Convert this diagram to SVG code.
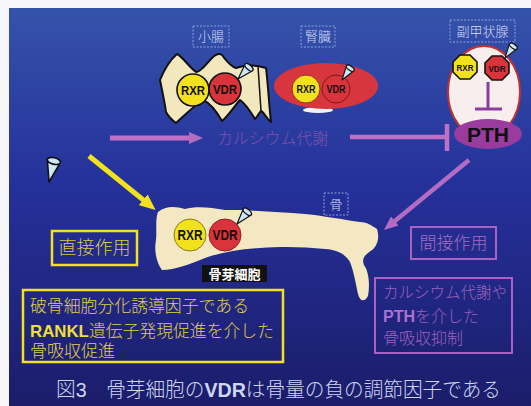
<svg xmlns="http://www.w3.org/2000/svg" width="531" height="406" viewBox="0 0 531 406">
  <style>
    .jp { font-family: "Liberation Serif", "Noto Sans CJK JP", serif; font-weight: 300; }
    .tag { fill: none; stroke: #8aa2dc; stroke-width: 1; stroke-dasharray: 2 1.5; }
    .tagtext { font-family: "Liberation Serif", "Noto Sans CJK JP", serif; font-weight: 300; font-size: 13px; fill: #d4dcf4; text-anchor: middle; }
    .rxr { fill: #f2e21e; stroke: #111; stroke-width: 1.6; }
    .vdr { fill: #d9333c; stroke: #111; stroke-width: 1.6; }
    .rtext { font-family: "Liberation Sans", "DejaVu Sans", sans-serif; font-weight: bold; fill: #111; text-anchor: middle; }
    .cone { fill: #cfe6f4; stroke: #111; stroke-width: 1.2; stroke-linejoin: round; }
  </style>
  <defs>
    <linearGradient id="bg" x1="0" y1="0" x2="0" y2="1">
      <stop offset="0" stop-color="#3553ab"/>
      <stop offset="0.45" stop-color="#25309a"/>
      <stop offset="1" stop-color="#1b1d6a"/>
    </linearGradient>
    <g id="cone">
      <path class="cone" d="M0,0 L-5,-16 A5,2.4 0 0 1 5,-16 Z"/>
      <ellipse class="cone" cx="0" cy="-16" rx="5" ry="2.4" fill="#eef7fc"/>
    </g>
    <marker id="headPurple" markerUnits="userSpaceOnUse" markerWidth="14" markerHeight="12" viewBox="0 0 14 12" refX="1" refY="6" orient="auto">
      <path d="M0,0 L14,6 L0,12 z" fill="#b36cc4"/>
    </marker>
    <marker id="headYellow" markerUnits="userSpaceOnUse" markerWidth="16" markerHeight="14" viewBox="0 0 16 14" refX="1" refY="7" orient="auto">
      <path d="M0,0 L16,7 L0,14 z" fill="#f2e21e"/>
    </marker>
  </defs>

  <!-- page and backdrop -->
  <rect x="0" y="0" width="531" height="406" fill="#f6f6f8"/>
  <rect x="9" y="8" width="522" height="398" fill="url(#bg)"/>

  <!-- organ tags -->
  <g id="tag-intestine">
    <rect class="tag" x="193" y="26" width="36" height="21"/>
    <text class="tagtext" x="211" y="41">小腸</text>
  </g>
  <g id="tag-kidney">
    <rect class="tag" x="301" y="26" width="34" height="21"/>
    <text class="tagtext" x="318" y="41">腎臓</text>
  </g>
  <g id="tag-parathyroid">
    <rect class="tag" x="450" y="20" width="65" height="22"/>
    <text class="tagtext" x="482.5" y="36">副甲状腺</text>
  </g>
  <g id="tag-bone">
    <rect class="tag" x="324" y="193" width="24" height="22"/>
    <text class="tagtext" x="336" y="209">骨</text>
  </g>

  <!-- small intestine: folded wall -->
  <g id="intestine">
    <path d="M160,80 C164,70 170,60 177,54 C182,56 188,66 196,72 C201,72 206,64 212,58 C216,54 219,53 222,55 C226,60 230,66 236,68 C242,66 250,65 258,66 L266,68 C268,84 269,104 271,122 C266,118 264,112 261,111 C258,114 257,118 255,119 C252,114 246,104 240,100 C236,104 228,116 222,121 C218,114 212,104 203,100 C196,104 186,114 176,123 C172,120 168,116 166,112 C165,104 162,90 160,80 Z" fill="#f3e8bd" stroke="#111" stroke-width="2" stroke-linejoin="round"/>
    <path d="M258,66 L261,111" fill="none" stroke="#111" stroke-width="1.5"/>
    <circle class="rxr" cx="193" cy="90" r="16"/>
    <circle class="vdr" cx="225" cy="89" r="16"/>
    <text class="rtext" x="193" y="95" font-size="13" textLength="24" lengthAdjust="spacingAndGlyphs">RXR</text>
    <text class="rtext" x="225" y="94" font-size="13" textLength="24" lengthAdjust="spacingAndGlyphs">VDR</text>
    <use href="#cone" transform="translate(238,79) rotate(43)"/>
  </g>

  <!-- kidney -->
  <g id="kidney">
    <ellipse cx="318" cy="110" rx="15" ry="3" fill="#f4f0f4"/>
    <ellipse cx="326" cy="86" rx="52" ry="23" fill="#d8363e"/>
    <circle cx="306" cy="89" r="14" fill="#f2e21e" stroke="#9a2a30" stroke-width="1"/>
    <circle cx="336" cy="89" r="14" fill="#d9333c" stroke="#7a1a20" stroke-width="1"/>
    <text class="rtext" x="306" y="93" font-size="11" font-weight="normal" textLength="19" lengthAdjust="spacingAndGlyphs">RXR</text>
    <text class="rtext" x="336" y="93" font-size="11" font-weight="normal" textLength="19" lengthAdjust="spacingAndGlyphs">VDR</text>
    <use href="#cone" transform="translate(342,80) rotate(35) scale(0.9)"/>
  </g>

  <!-- parathyroid gland -->
  <g id="parathyroid">
    <ellipse cx="484" cy="92" rx="36" ry="46" fill="#f8eeee" stroke="#c2302e" stroke-width="2"/>
    <polygon class="rxr" points="477,62 470,55 460,55 453,62 453,72 460,79 470,79 477,72"/>
    <polygon class="vdr" points="509,63 502,56 492,56 485,63 485,73 492,80 502,80 509,73"/>
    <text class="rtext" x="465" y="71" font-size="9" textLength="17" lengthAdjust="spacingAndGlyphs">RXR</text>
    <text class="rtext" x="497" y="72" font-size="9" textLength="17" lengthAdjust="spacingAndGlyphs">VDR</text>
    <use href="#cone" transform="translate(505,58) rotate(35) scale(0.9)"/>
  </g>

  <!-- PTH -->
  <g id="pth">
    <ellipse cx="488" cy="134" rx="34" ry="15" fill="#9a3b9e"/>
    <text x="488" y="142" font-family="Liberation Sans, DejaVu Sans, sans-serif" font-weight="bold" font-size="21" fill="#111" text-anchor="middle">PTH</text>
  </g>

  <!-- bone with osteoblast -->
  <g id="bone">
    <path d="M158,212 C165,206 175,206 185,209 C195,206 210,207 225,210 L245,210 C265,212 285,212 305,214 C325,216 345,220 360,222 C368,222 372,226 377,229 C380,238 377,246 372,250 C366,254 361,258 364,265 C369,272 370,285 368,296 C365,302 360,302 358,294 C356,285 354,272 350,262 C345,254 338,250 325,249 C305,247 285,246 260,248 C240,249 222,252 205,258 C190,264 175,270 162,270 C156,262 154,250 156,240 C157,230 155,220 158,212 Z" fill="#f3e8c2"/>
    <circle cx="190" cy="235" r="16" fill="#f2e21e" stroke="#8a7a20" stroke-width="1"/>
    <circle cx="225" cy="235" r="16" fill="#d9333c" stroke="#8a2228" stroke-width="1"/>
    <text class="rtext" x="190" y="240" font-size="14" font-weight="normal" textLength="25" lengthAdjust="spacingAndGlyphs">RXR</text>
    <text class="rtext" x="225" y="240" font-size="14" font-weight="normal" textLength="25" lengthAdjust="spacingAndGlyphs">VDR</text>
    <use href="#cone" transform="translate(237,224) rotate(40)"/>
  </g>

  <g id="osteoblast-label">
    <rect x="202" y="265" width="65" height="17" fill="#111"/>
    <text x="234.5" y="278.5" font-family="Noto Sans CJK JP, sans-serif" font-weight="bold" font-size="13" fill="#ffffff" text-anchor="middle">骨芽細胞</text>
  </g>

  <!-- loose vitamin D pipette -->
  <g id="ligand">
    <use href="#cone" transform="translate(49,182) rotate(13) scale(1.35)"/>
  </g>

  <!-- connectors -->
  <g id="connectors">
    <line x1="110" y1="138" x2="190" y2="138" stroke="#c06fc6" stroke-width="5" marker-end="url(#headPurple)"/>
    <line x1="350" y1="137" x2="447" y2="137" stroke="#c06fc6" stroke-width="4.5"/>
    <line x1="447" y1="124" x2="447" y2="151" stroke="#c06fc6" stroke-width="4.5"/>
    <line x1="488" y1="82" x2="488" y2="109" stroke="#8a3c9e" stroke-width="3"/>
    <line x1="475" y1="109" x2="502" y2="109" stroke="#8a3c9e" stroke-width="3"/>
    <line x1="89" y1="156" x2="144" y2="200.5" stroke="#f2e21e" stroke-width="5" marker-end="url(#headYellow)"/>
    <line x1="469" y1="160" x2="394" y2="221.7" stroke="#b36cc4" stroke-width="4.5" marker-end="url(#headPurple)"/>
  </g>

  <g id="calcium-label">
    <text class="jp" x="217" y="144" font-size="16" fill="#7d52ac" textLength="111" lengthAdjust="spacingAndGlyphs">カルシウム代謝</text>
  </g>

  <!-- action labels -->
  <g id="direct">
    <rect x="52" y="231" width="85" height="34" fill="none" stroke="#f2e21e" stroke-width="2.5"/>
    <text class="jp" x="94.5" y="254" font-size="18" fill="#d9c944" text-anchor="middle">直接作用</text>
  </g>
  <g id="indirect">
    <rect x="411" y="227" width="85" height="32" fill="none" stroke="#a862c4" stroke-width="2"/>
    <text class="jp" x="453.5" y="249" font-size="17" fill="#a46cc0" text-anchor="middle">間接作用</text>
  </g>

  <g id="direct-note">
    <rect x="23" y="290" width="260" height="72" fill="none" stroke="#f2e21e" stroke-width="2.5"/>
    <text class="jp" x="30" y="312" font-size="17" fill="#e0d04a" textLength="219" lengthAdjust="spacingAndGlyphs">破骨細胞分化誘導因子である</text>
    <text class="jp" x="30" y="337" font-size="17" fill="#e0d04a" textLength="244" lengthAdjust="spacingAndGlyphs"><tspan font-family="Liberation Sans, sans-serif" font-weight="bold" fill="#f0de3c">RANKL</tspan>遺伝子発現促進を介した</text>
    <text class="jp" x="30" y="357" font-size="17" fill="#e0d04a">骨吸収促進</text>
  </g>

  <g id="indirect-note">
    <rect x="375" y="278" width="137" height="75" fill="none" stroke="#a862c4" stroke-width="2"/>
    <text class="jp" x="383" y="298" font-size="16" fill="#9e62bc" textLength="124" lengthAdjust="spacingAndGlyphs">カルシウム代謝や</text>
    <text class="jp" x="383" y="322" font-size="16" fill="#9e62bc"><tspan font-family="Liberation Sans, sans-serif" font-weight="bold" fill="#b070d0">PTH</tspan>を介した</text>
    <text class="jp" x="383" y="344" font-size="16" fill="#9e62bc">骨吸収抑制</text>
  </g>

  <!-- caption -->
  <g id="caption">
    <text class="jp" x="56" y="397" font-size="20" fill="#cfd6f2" textLength="445" lengthAdjust="spacingAndGlyphs">図<tspan font-family="Liberation Sans, sans-serif">3</tspan>　骨芽細胞の<tspan font-family="Liberation Sans, sans-serif" font-weight="bold">VDR</tspan>は骨量の負の調節因子である</text>
  </g>
</svg>
